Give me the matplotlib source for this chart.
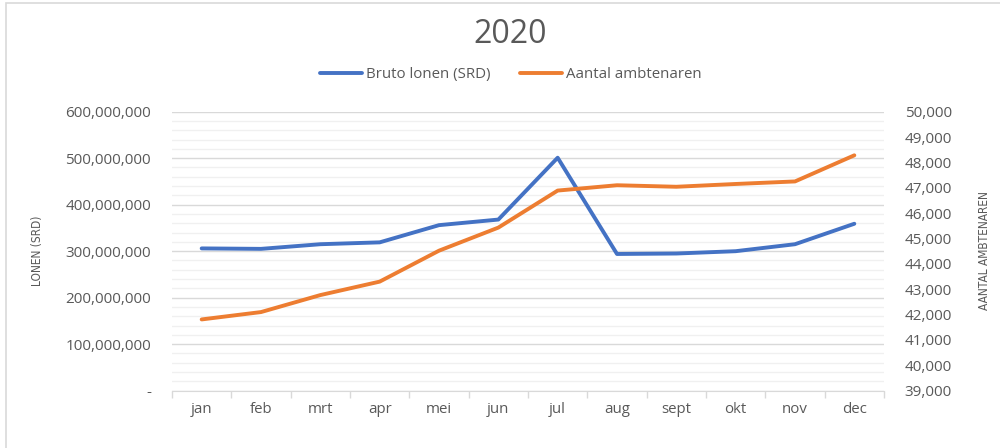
import matplotlib
matplotlib.use("Agg")
import matplotlib.pyplot as plt
from matplotlib.ticker import FuncFormatter, MultipleLocator, FixedLocator
from matplotlib.patches import Rectangle

months = ["jan", "feb", "mrt", "apr", "mei", "jun", "jul", "aug", "sept", "okt", "nov", "dec"]
bruto_lonen = [306e6, 305e6, 315e6, 319e6, 356e6, 368e6, 501e6, 294e6, 295e6, 300e6, 315e6, 359e6]
ambtenaren = [41810, 42100, 42770, 43300, 44520, 45430, 46890, 47100, 47040, 47150, 47250, 48280]

title = "2020"
label_left = "LONEN (SRD)"
label_right = "AANTAL AMBTENAREN"
series_names = ["Bruto lonen (SRD)", "Aantal ambtenaren"]

plt.rcParams['font.family'] = ['Open Sans', 'DejaVu Sans']
txt = "#595959"
blue = "#4472C4"
orange = "#ED7D31"

fig = plt.figure(figsize=(10, 4.48), dpi=100)
fig.patches.append(Rectangle((0.006, -0.01), 1.2, 1.004, transform=fig.transFigure,
                             fill=False, edgecolor="#d9d9d9", linewidth=1.2))

ax = fig.add_axes([0.172, 0.1279, 0.712, 0.6228])
ax2 = ax.twinx()
x = list(range(len(months)))

ax.set_ylim(0, 600e6)
ax.yaxis.set_major_locator(MultipleLocator(100e6))
ax.yaxis.set_minor_locator(MultipleLocator(20e6))
ax.grid(which="major", axis="y", color="#d9d9d9", linewidth=1.0)
ax.grid(which="minor", axis="y", color="#f0f0f0", linewidth=1.0)
ax.set_axisbelow(True)
ax.yaxis.set_major_formatter(FuncFormatter(lambda v, p: "-" if v == 0 else f"{v:,.0f}"))
ax.tick_params(axis="y", which="both", length=0, labelsize=11, labelcolor=txt, pad=15)

ax.set_xlim(-0.5, len(months) - 0.5)
ax.set_xticks(x)
ax.set_xticklabels(months)
ax.xaxis.set_minor_locator(FixedLocator([i - 0.5 for i in range(len(months) + 1)]))
ax.tick_params(axis="x", which="major", length=0, labelsize=10.8, labelcolor=txt, pad=8)
ax.tick_params(axis="x", which="minor", length=5, color="#d9d9d9", width=1)

for s in ["top", "left", "right"]:
    ax.spines[s].set_visible(False)
    ax2.spines[s].set_visible(False)
ax.spines["bottom"].set_color("#d9d9d9")
ax2.spines["bottom"].set_visible(False)

ax2.set_ylim(39000, 50000)
ax2.yaxis.set_major_locator(MultipleLocator(1000))
ax2.yaxis.set_major_formatter(FuncFormatter(lambda v, p: f"{v:,.0f}"))
ax2.tick_params(axis="y", length=0, labelsize=11, labelcolor=txt, pad=15)

l1, = ax.plot(x, bruto_lonen, color=blue, linewidth=2.8, solid_capstyle="round", solid_joinstyle="round", zorder=3)
l2, = ax2.plot(x, ambtenaren, color=orange, linewidth=2.8, solid_capstyle="round", solid_joinstyle="round", zorder=3)

fig.text(0.038, 0.44, label_left, rotation=90, ha="center", va="center", color=txt,
         fontsize=8.6, family=["DejaVu Sans"], fontstretch="condensed")
fig.text(0.985, 0.44, label_right, rotation=90, ha="center", va="center", color=txt,
         fontsize=8.6, family=["DejaVu Sans"], fontstretch="condensed")

fig.text(0.51, 0.922, title, ha="center", va="center", fontsize=23, color=txt)
fig.legend([l1, l2], series_names, loc="center", bbox_to_anchor=(0.511, 0.833), ncol=2,
           frameon=False, fontsize=10.8, labelcolor=txt, handlelength=2.8,
           handletextpad=0.25, columnspacing=2.0)

fig.savefig("out.png", dpi=100, facecolor="white")
